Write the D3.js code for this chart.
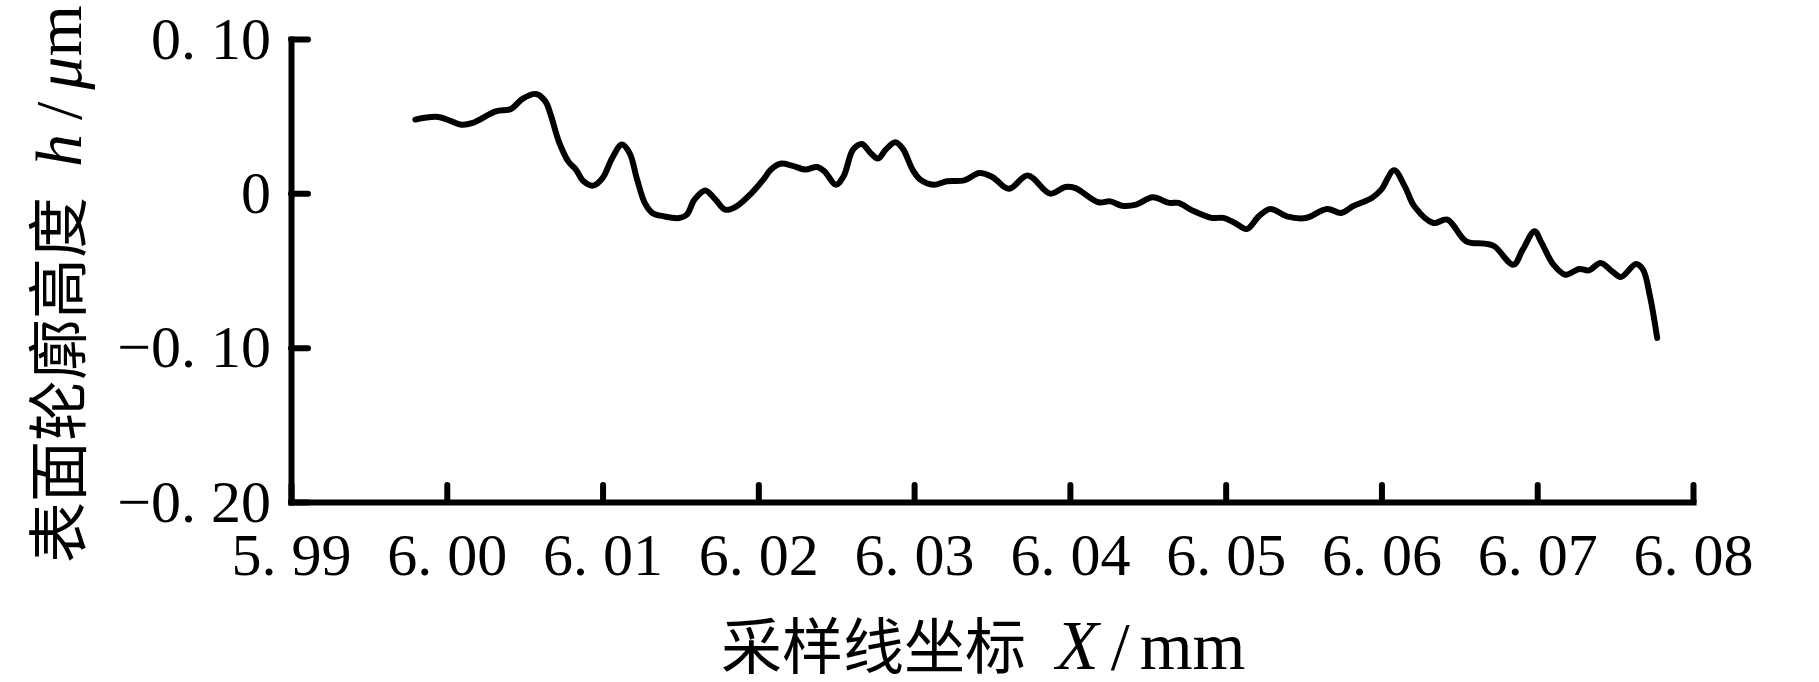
<!DOCTYPE html>
<html>
<head>
<meta charset="utf-8">
<script src="https://cdn.jsdelivr.net/npm/d3@7"></script>
<style>
  html, body { margin: 0; padding: 0; background: #fff; }
  svg { display: block; }
</style>
</head>
<body>
<svg id="chart" width="1819" height="682"></svg>
<script>
// ---- data ----
const xValues = [5.99798,5.99946,6.00093,6.00166,6.00314,6.00412,6.00486,6.00572,6.00633,6.0067,
  6.00719,6.0078,6.00829,6.00878,6.0094,6.01001,6.01062,6.01124,6.01173,6.01222,
  6.01271,6.0132,6.01394,6.01492,6.01541,6.0159,6.01659,6.01725,6.01787,6.0186,
  6.01958,6.02032,6.02081,6.02142,6.02216,6.02302,6.02376,6.02424,6.02498,6.02547,
  6.02608,6.02665,6.0272,6.02768,6.02818,6.02879,6.02928,6.0299,6.0304,6.03125,
  6.03211,6.03321,6.03419,6.03502,6.03608,6.03729,6.03874,6.03971,6.04032,6.04183,
  6.04259,6.04334,6.04425,6.04531,6.04637,6.04697,6.04788,6.04909,6.04985,6.0506,
  6.05136,6.05212,6.05287,6.05393,6.05514,6.05651,6.05741,6.05817,6.05938,6.05999,
  6.06081,6.0615,6.06211,6.06332,6.06423,6.06544,6.06665,6.06725,6.06847,6.06907,
  6.06983,6.07028,6.07104,6.0718,6.0727,6.07331,6.07407,6.07482,6.07537,6.07634,
  6.07679,6.07724,6.0777];
const hValues = [0.0478,0.0495,0.0445,0.0456,0.0531,0.0547,0.0612,0.0644,0.0596,0.0499,
  0.0337,0.0207,0.0154,0.0078,0.0050,0.0100,0.0229,0.0316,0.0262,0.0089,
  -0.0062,-0.0127,-0.0149,-0.0160,-0.0138,-0.0041,0.0019,-0.0041,-0.0106,-0.0084,
  0.0003,0.0089,0.0154,0.0192,0.0180,0.0154,0.0171,0.0143,0.0056,0.0110,
  0.0283,0.0320,0.0262,0.0225,0.0283,0.0331,0.0288,0.0154,0.0089,0.0056,
  0.0078,0.0084,0.0132,0.0106,0.0029,0.0115,-0.0002,0.0041,0.0035,-0.0058,
  -0.0052,-0.0080,-0.0073,-0.0026,-0.0062,-0.0062,-0.0112,-0.0159,-0.0159,-0.0192,
  -0.0231,-0.0149,-0.0101,-0.0149,-0.0160,-0.0101,-0.0127,-0.0084,-0.0030,0.0024,
  0.0149,0.0045,-0.0084,-0.0192,-0.0170,-0.0311,-0.0326,-0.0343,-0.0462,-0.0365,
  -0.0246,-0.0321,-0.0462,-0.0527,-0.0490,-0.0499,-0.0451,-0.0506,-0.0542,-0.0458,
  -0.0494,-0.0668,-0.0937];

const xTicks = [5.99,6.00,6.01,6.02,6.03,6.04,6.05,6.06,6.07,6.08];
const xTickLabels = ["5. 99","6. 00","6. 01","6. 02","6. 03","6. 04","6. 05","6. 06","6. 07","6. 08"];
const yTicks = [-0.20,-0.10,0,0.10];
const yTickLabels = ["\u22120. 20","\u22120. 10","0","0. 10"];

const xTitleCJK = "采样线坐标";
const yTitleCJK = "表面轮廓高度";

// ---- layout ----
const svg = d3.select("#chart");
svg.append("rect").attr("width",1819).attr("height",682).attr("fill","#fff");

const plotLeft = 291, plotRight = 1693, plotTop = 39, plotBottom = 502;
const x = d3.scaleLinear().domain([5.99, 6.08]).range([plotLeft, plotRight]);
const y = d3.scaleLinear().domain([-0.20, 0.10]).range([plotBottom, plotTop]);

const serif = "'Liberation Serif','Times New Roman',serif";
const cjk = "'Noto Sans CJK SC','Noto Sans CJK JP',sans-serif";
const axisW = 6;

// x axis
const xAxis = d3.axisBottom(x)
  .tickValues(xTicks)
  .tickFormat((d,i) => xTickLabels[i])
  .tickSizeInner(-17).tickSizeOuter(0).tickPadding(30);
const gx = svg.append("g").attr("transform", `translate(0,${plotBottom})`).call(xAxis);
gx.select(".domain").attr("stroke","#000").attr("stroke-width",axisW).attr("stroke-linecap","square");
gx.selectAll(".tick line").attr("stroke","#000").attr("stroke-width",axisW).attr("stroke-linecap","round");
gx.selectAll(".tick text").attr("fill","#000").style("font-family",serif).style("font-size","60px");

// y axis
const yAxis = d3.axisLeft(y)
  .tickValues(yTicks)
  .tickFormat((d,i) => yTickLabels[i])
  .tickSizeInner(-17).tickSizeOuter(0).tickPadding(20);
const gy = svg.append("g").attr("transform", `translate(${plotLeft},0)`).call(yAxis);
gy.select(".domain").attr("stroke","#000").attr("stroke-width",axisW).attr("stroke-linecap","square");
gy.selectAll(".tick line").attr("stroke","#000").attr("stroke-width",axisW).attr("stroke-linecap","round");
gy.selectAll(".tick text").attr("fill","#000").style("font-family",serif).style("font-size","60px");

// line
const pts = xValues.map((v,i) => [v, hValues[i]]);
const line = d3.line()
  .x(d => x(d[0])).y(d => y(d[1]))
  .curve(d3.curveCatmullRom.alpha(0.5));
svg.append("path")
  .datum(pts)
  .attr("d", line)
  .attr("fill","none")
  .attr("stroke","#000")
  .attr("stroke-width",6)
  .attr("stroke-linejoin","round")
  .attr("stroke-linecap","round");

// x title
const xt = svg.append("text")
  .attr("x", 721).attr("y", 669)
  .attr("fill","#000");
xt.append("tspan").style("font-family",cjk).style("font-size","61px").text(xTitleCJK);
xt.append("tspan").attr("dx",30).style("font-family",serif).style("font-style","italic").style("font-size","70px").text("X");
xt.append("tspan").attr("dx",12).style("font-family",serif).style("font-size","68px").text("/");
xt.append("tspan").attr("dx",10).style("font-family",serif).style("font-size","68px").text("mm");

// y title
const yt = svg.append("text")
  .attr("transform","translate(81,563) rotate(-90)")
  .attr("fill","#000");
yt.append("tspan").style("font-family",cjk).style("font-size","61px").text(yTitleCJK);
yt.append("tspan").attr("dx",30).style("font-family",serif).style("font-style","italic").style("font-size","66px").text("h");
yt.append("tspan").attr("dx",14).style("font-family",serif).style("font-size","66px").text("/");
yt.append("tspan").attr("dx",12).style("font-family",serif).style("font-style","italic").style("font-size","66px").text("\u03bc");
yt.append("tspan").style("font-family",serif).style("font-size","66px").text("m");
</script>
</body>
</html>
